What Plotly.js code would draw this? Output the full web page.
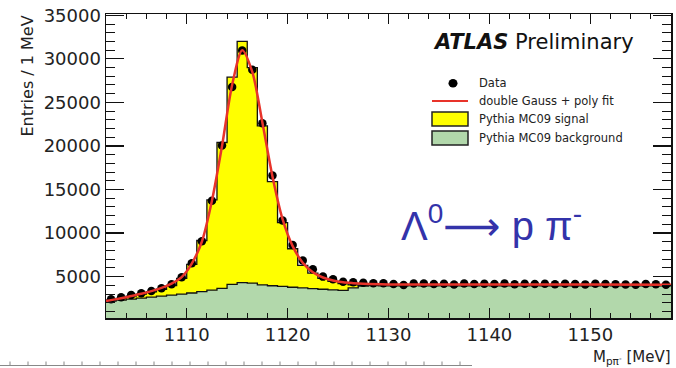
<!DOCTYPE html>
<html>
<head>
<meta charset="utf-8">
<script src="https://cdn.plot.ly/plotly-3.0.1.min.js"></script>
<style>
html,body{margin:0;padding:0;background:#fff;}
#chart{width:676px;height:368px;}
</style>
</head>
<body>
<div id="chart"></div>
<script>
// Bin edges (1 MeV bins), 56 bins
const binEdges = [1102,1103,1104,1105,1106,1107,1108,1109,1110,1111,1112,1113,1114,1115,1116,1117,1118,1119,1120,1121,1122,1123,1124,1125,1126,1127,1128,1129,1130,1131,1132,1133,1134,1135,1136,1137,1138,1139,1140,1141,1142,1143,1144,1145,1146,1147,1148,1149,1150,1151,1152,1153,1154,1155,1156,1157,1158];

// Data (entries per bin)
const dataCounts = [2400,2630,2900,3090,3350,3660,4120,4930,6540,9050,13700,20050,26760,30970,28750,22620,16600,11450,8640,6840,5850,5000,4700,4420,4350,4300,
  4250,4230,4150,4050,4200,4220,4150,4180,4090,4200,4150,4180,4160,4200,4130,4190,4150,4180,4120,4170,4140,4110,4170,4150,4120,4100,4060,4150,4120,4060];

// Pythia MC09 signal + background (stacked total)
const mcTotal = [2300,2500,2750,2980,3250,3550,3980,4800,6400,9150,13800,20400,27900,32000,29000,22300,15900,11200,8200,6300,5400,4800,4450,4200,4050,3980,
  3960,3940,3950,3930,3960,3950,3940,3960,3950,3940,3950,3960,3940,3950,3950,3940,3960,3950,3940,3950,3950,3940,3950,3960,3940,3950,3940,3930,3950,3940];

// Pythia MC09 background
const mcBackground = [2200,2300,2420,2530,2650,2750,2880,3000,3120,3280,3450,3650,4100,4300,4250,4050,3950,3880,3780,3700,3620,3550,3480,3420,3700,3920,
  3960,3940,3950,3930,3960,3950,3940,3960,3950,3940,3950,3960,3940,3950,3950,3940,3960,3950,3940,3950,3950,3940,3950,3960,3940,3950,3940,3930,3950,3940];

// Fit curve (double Gauss + poly)
const fitX = [1102,1102.5,1103.5,1104.5,1105.5,1106.5,1107.5,1108.5,1109.5,1110.5,1111.5,1112.5,1113.5,1114.5,1115.5,1116.5,1117.5,1118.5,1119.5,1120.5,1121.5,1122.5,1123.5,1124.5,1125.5,1126.5,1127.5,1130,1140,1150,1158];
const fitY = [2200,2300,2520,2770,3030,3330,3700,4200,4950,6500,9000,13700,20000,27000,31000,28500,22700,16500,11600,8500,6600,5500,4900,4550,4350,4250,4180,4110,4100,4100,4080];

const legendLabels = ["Data","double Gauss + poly fit","Pythia MC09 signal","Pythia MC09 background"];

const FONT = "DejaVu Sans, Liberation Sans, Arial, sans-serif";

function stepY(vals){ return vals.concat([vals[vals.length-1]]); }
const centers = binEdges.slice(0,-1).map(e => e + 0.5);

const traces = [
  {x: binEdges, y: stepY(mcTotal), type:'scatter', mode:'lines', line:{shape:'hv', color:'#111', width:1.3},
   fill:'tozeroy', fillcolor:'#ffff00', showlegend:false, hoverinfo:'skip'},
  {x: binEdges, y: stepY(mcBackground), type:'scatter', mode:'lines', line:{shape:'hv', color:'#111', width:1.3},
   fill:'tozeroy', fillcolor:'#b2d8ab', showlegend:false, hoverinfo:'skip'},
  {x: centers, y: dataCounts, type:'scatter', mode:'markers', marker:{color:'#000', size:8.5, symbol:'circle'}, showlegend:false},
  {x: fitX, y: fitY, type:'scatter', mode:'lines', line:{shape:'spline', smoothing:0.8, color:'#e8332a', width:2.5}, showlegend:false}
];

// plot area in px: left 106, right 671, top 14, bottom 318
const L=106, R=671, T=14, B=318;
const px = v => (v-L)/(R-L);
const py = v => (B-v)/(B-T);

const shapes = [];
// legend icons
shapes.push({type:'circle', xref:'paper', yref:'paper', x0:px(448.5), x1:px(457.5), y0:py(87.5), y1:py(79), fillcolor:'#000', line:{width:0}});
shapes.push({type:'line', xref:'paper', yref:'paper', x0:px(432), x1:px(468), y0:py(101), y1:py(101), line:{color:'#e8332a', width:2}});
shapes.push({type:'rect', xref:'paper', yref:'paper', x0:px(432), x1:px(468), y0:py(126), y1:py(112), fillcolor:'#ffff00', line:{color:'#222', width:1.5}});
shapes.push({type:'rect', xref:'paper', yref:'paper', x0:px(432), x1:px(468), y0:py(145), y1:py(131), fillcolor:'#b2d8ab', line:{color:'#222', width:1.5}});
// bottom ruler artifact
shapes.push({type:'line', xref:'paper', yref:'paper', x0:px(0), x1:px(472), y0:py(365.5), y1:py(365.5), line:{color:'#888', width:1}});
for (let xx = 10; xx <= 470; xx += 18) {
  shapes.push({type:'line', xref:'paper', yref:'paper', x0:px(xx), x1:px(xx), y0:py(365.5), y1:py(361.5), line:{color:'#888', width:1}});
}

const legY = [83, 101, 119, 138];
const annotations = legendLabels.map((t,i) => ({
  xref:'paper', yref:'paper', x:px(477), y:py(legY[i]), xanchor:'left', yanchor:'middle',
  text:t, showarrow:false, font:{family:FONT, size:11.5, color:'#222'}
}));
annotations.push({xref:'paper', yref:'paper', x:px(431), y:py(42), xanchor:'left', yanchor:'middle', showarrow:false,
  text:'<b><i>ATLAS</i></b> Preliminary', font:{family:FONT, size:21, color:'#111'}});
annotations.push({xref:'paper', yref:'paper', x:px(399), y:py(223), xanchor:'left', yanchor:'middle', showarrow:false,
  text:'Λ<sup>0</sup>⟶ p π<sup>-</sup>', font:{family:'Liberation Sans, DejaVu Sans, Arial, sans-serif', size:40, color:'#3333aa'}});
annotations.push({xref:'paper', yref:'paper', x:px(27), y:py(14), xanchor:'center', yanchor:'top', textangle:-90, showarrow:false,
  text:'Entries / 1 MeV', font:{family:FONT, size:16, color:'#222'}});
annotations.push({xref:'paper', yref:'paper', x:px(673), y:py(357), xanchor:'right', yanchor:'middle', showarrow:false,
  text:'M<sub>pπ<sup>-</sup></sub> [MeV]', font:{family:FONT, size:15, color:'#222'}});

const layout = {
  width:676, height:368,
  margin:{l:L, r:676-R, t:T, b:368-B, pad:0},
  paper_bgcolor:'#fff', plot_bgcolor:'#fff',
  showlegend:false,
  xaxis:{range:[1102,1158], tick0:1110, dtick:10, ticks:'inside', ticklen:10, tickwidth:1.2, tickcolor:'#111',
    minor:{dtick:2, ticks:'inside', ticklen:5, tickwidth:1, tickcolor:'#111'},
    showline:true, linecolor:'#111', linewidth:1.5, mirror:'ticks', showgrid:false, zeroline:false,
    tickfont:{family:FONT, size:18, color:'#222'}},
  yaxis:{range:[250,35150], tick0:0, dtick:5000, tickformat:'d', ticks:'inside', ticklen:18, tickwidth:1.2, tickcolor:'#111',
    minor:{dtick:1000, ticks:'inside', ticklen:9, tickwidth:1, tickcolor:'#111'},
    showline:true, linecolor:'#111', linewidth:1.5, mirror:'ticks', showgrid:false, zeroline:false,
    tickfont:{family:FONT, size:18, color:'#222'}},
  shapes: shapes,
  annotations: annotations
};

Plotly.newPlot('chart', traces, layout, {staticPlot:true, displayModeBar:false});
</script>
</body>
</html>
